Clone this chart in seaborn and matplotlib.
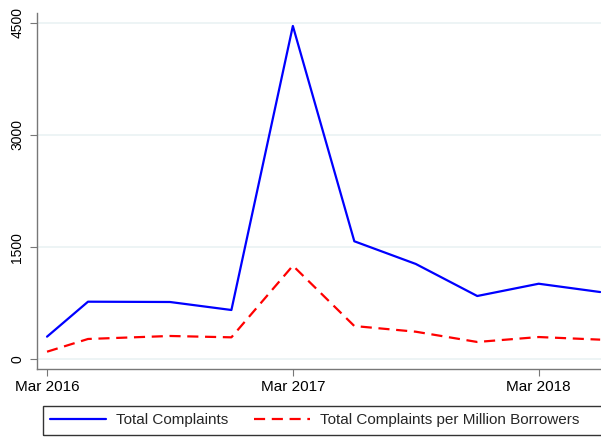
import matplotlib
matplotlib.use("Agg")
import matplotlib.pyplot as plt
from matplotlib.patches import Rectangle
import seaborn as sns
import pandas as pd

# months since Mar 2016
months = [0, 2, 6, 9, 12, 15, 18, 21, 24, 27]
total = [305, 772, 768, 661, 4455, 1579, 1276, 848, 1012, 901]
per_million = [104, 274, 314, 296, 1253, 447, 371, 234, 300, 265]
xtick_pos = [0, 12, 24]
xtick_labels = ["Mar 2016", "Mar 2017", "Mar 2018"]
ytick_vals = [0, 1500, 3000, 4500]

sns.set_theme(style="white")
plt.rcParams["font.family"] = ["Liberation Sans", "DejaVu Sans"]

df = pd.DataFrame({"month": months, "total": total, "pm": per_million})

W, H = 601, 437
fig = plt.figure(figsize=(6.01, 4.37), dpi=100)
ax = fig.add_axes([37 / W, 1 - 369 / H, 1 - 37 / W + 0.002, (369 - 13.3) / H])

sns.lineplot(data=df, x="month", y="total", ax=ax, color="#0000ff", lw=1.6,
             label="Total Complaints")
sns.lineplot(data=df, x="month", y="pm", ax=ax, color="#ff0000", lw=1.6,
             label="Total Complaints per Million Borrowers")
ax.lines[1].set_dashes([5, 3])

ax.set_xlim(-0.49, 27.1)
ax.set_ylim(-127, 4624)
ax.set_xticks(xtick_pos)
ax.set_xticklabels(xtick_labels)
ax.set_yticks(ytick_vals)
ax.set_yticklabels([str(v) for v in ytick_vals], rotation=90, va="center")
ax.set_xlabel("")
ax.set_ylabel("")
ax.grid(axis="y", color="#eaf2f3", lw=1.2)
ax.set_axisbelow(True)
for s in ["top", "right"]:
    ax.spines[s].set_visible(False)
for s in ["left", "bottom"]:
    ax.spines[s].set_color("#777777")
    ax.spines[s].set_linewidth(1.0)
ax.tick_params(axis="both", which="major", length=5, width=0.8, color="#777777",
               labelcolor="black", bottom=True, left=True)
ax.tick_params(axis="x", labelsize=11, pad=3)
ax.tick_params(axis="y", labelsize=10, pad=4)

handles, labels = ax.get_legend_handles_labels()
ax.get_legend().remove()
leg = fig.legend(handles, labels, loc="upper left", ncol=2,
                 bbox_to_anchor=(43 / W, 1 - 406 / H), borderaxespad=0,
                 frameon=False, fontsize=11, handlelength=3.66,
                 handletextpad=0.65, columnspacing=1.7, borderpad=0.45)
# legend frame extending to the right edge, as in the reference
fig.patches.append(Rectangle((43 / W, 1 - 435 / H), (606 - 43) / W, 29 / H,
                             transform=fig.transFigure, fill=False,
                             edgecolor="#333333", lw=1.0))

fig.savefig("out.png", dpi=100)
